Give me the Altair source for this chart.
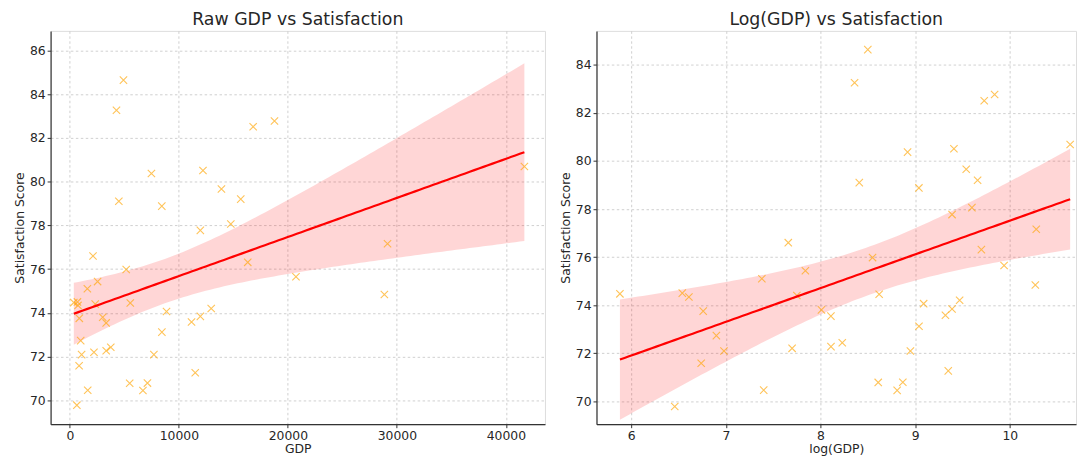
import numpy as np
import pandas as pd
import altair as alt

# GDP values
gdp = [358, 639, 692, 742, 845, 863, 992, 1075, 1604, 1636, 2121, 2208, 2322, 2541,
       3011, 3328, 3330, 3752, 4273, 4491, 4915, 5166, 5486, 5541, 6701, 7115, 7480,
       7708, 8433, 8440, 8866, 11160, 11500, 11968, 11970, 12210, 12966, 13904, 14765,
       15677, 16318, 16815, 18770, 20743, 28854, 29143, 41700]
satisfaction = [74.47, 69.78, 74.50, 74.34, 71.58, 73.75, 72.73, 72.09, 75.10, 70.46,
                76.60, 72.20, 74.40, 75.43, 73.80, 73.54, 72.27, 72.43, 83.26, 79.10,
                84.64, 75.98, 70.78, 74.45, 70.45, 70.79, 80.37, 72.09, 78.88, 73.12,
                74.06, 73.58, 71.26, 77.77, 73.84, 80.51, 74.20, 79.66, 78.06, 79.20,
                76.31, 82.51, 82.77, 75.65, 74.84, 77.16, 80.69]

titles = ["Raw GDP vs Satisfaction", "Log(GDP) vs Satisfaction"]
x_titles = ["GDP", "log(GDP)"]
y_title = "Satisfaction Score"

df = pd.DataFrame({"gdp": gdp, "sat": satisfaction})
df["log_gdp"] = np.log(df["gdp"])


def ci_band(x, y, n=100, t=2.014):
    x = np.asarray(x, float)
    y = np.asarray(y, float)
    b, a = np.polyfit(x, y, 1)
    resid = y - (a + b * x)
    s = np.sqrt(np.sum(resid ** 2) / (len(x) - 2))
    xm = x.mean()
    sxx = np.sum((x - xm) ** 2)
    grid = np.linspace(x.min(), x.max(), n)
    yhat = a + b * grid
    se = s * np.sqrt(1 / len(x) + (grid - xm) ** 2 / sxx)
    return pd.DataFrame({"x": grid, "fit": yhat, "lo": yhat - t * se, "hi": yhat + t * se})


X_SHAPE = "M-1,-1L1,1M-1,1L1,-1"
FONT = "DejaVu Sans"
AXIS_STYLE = dict(
    labelFont=FONT, titleFont=FONT, labelFontSize=12.5, titleFontSize=12.5, titleFontWeight="normal",
    labelColor="#262626", titleColor="#262626", domainColor="#333333", domainWidth=1.2,
    tickColor="#333333", tickSize=3.5, grid=True, gridColor="#c4c4c4", gridDash=[2.5, 2.5], gridWidth=0.8,
    labelPadding=1.5, titlePadding=1,
)


def panel(xcol, title, xtitle, xdom, ydom, xticks, yticks, width):
    band = ci_band(df[xcol], df["sat"])
    xscale = alt.Scale(domain=xdom, nice=False, zero=False)
    yscale = alt.Scale(domain=ydom, nice=False, zero=False)
    xaxis = alt.Axis(title=xtitle, values=xticks, format="d", **AXIS_STYLE)
    yaxis = alt.Axis(title=y_title, values=yticks, **{**AXIS_STYLE, "titlePadding": 3, "labelPadding": 2})
    pts = alt.Chart(df).mark_point(
        shape=X_SHAPE, filled=False, color="#FFA500", opacity=0.65, size=55, strokeWidth=1.1, clip=True
    ).encode(
        x=alt.X(f"{xcol}:Q", scale=xscale, axis=xaxis),
        y=alt.Y("sat:Q", scale=yscale, axis=yaxis),
    )
    area = alt.Chart(band).mark_area(color="#FF0000", opacity=0.16, clip=True).encode(
        x=alt.X("x:Q", scale=xscale),
        y=alt.Y("lo:Q", scale=yscale),
        y2="hi:Q",
    )
    line = alt.Chart(band).mark_line(color="#FF0000", strokeWidth=2.2, clip=True).encode(
        x=alt.X("x:Q", scale=xscale),
        y=alt.Y("fit:Q", scale=yscale),
    )
    return alt.layer(area, pts, line).properties(
        width=width, height=397,
        title=alt.TitleParams(title, fontSize=17.5, font=FONT, fontWeight="normal", color="#262626", offset=2),
    )


left = panel("gdp", titles[0], x_titles[0], [-1770, 43590], [68.91, 86.89],
             [0, 10000, 20000, 30000, 40000], [70, 72, 74, 76, 78, 80, 82, 84, 86], 499)
right = panel("log_gdp", titles[1], x_titles[1], [5.633, 10.70], [69.04, 85.42],
              [6, 7, 8, 9, 10], [70, 72, 74, 76, 78, 80, 82, 84], 484)

chart = alt.hconcat(left, right, spacing=13).configure_view(stroke=None).configure_axis(
    **AXIS_STYLE
).configure_title(fontWeight="normal").configure(
    background="white", padding={"left": 5, "top": 1, "right": 0, "bottom": 0}
)

chart.save("out.html", embed_options={"renderer": "svg", "actions": False})
